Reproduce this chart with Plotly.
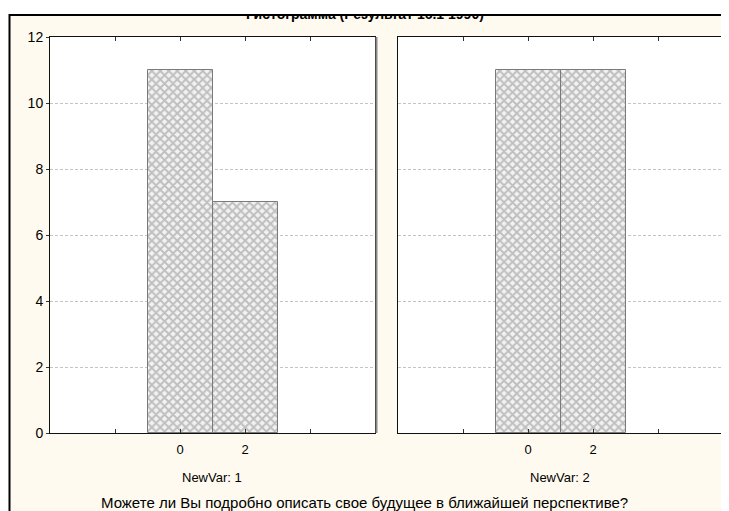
import plotly.graph_objects as go
from plotly.subplots import make_subplots

# Data
bin_centers = [0, 2]
counts_var1 = [11, 7]
counts_var2 = [11, 11]
panel_labels = ["NewVar: 1", "NewVar: 2"]
tick_vals = [-2, 0, 2, 4]
tick_text = ["", "0", "2", ""]
title_text = "Гистограмма (Результат 16.1 1990)"
xlabel_text = "Можете ли Вы подробно описать свое будущее в ближайшей перспективе?"

FONT = "Liberation Sans, Arial, sans-serif"
BG = "#FFFAEF"

# the page body has an 8px margin, so the figure is 8px smaller and everything is given in page pixels
OFF = 8
W, H = 729 - OFF, 511 - OFF
L, R, T, B = 50 - OFF, 729 - 723, 37 - OFF, 511 - 433
pw = W - L - R
ph = H - T - B


def px_x(page_x):
    return (page_x - OFF - L) / pw


def px_y(page_y):
    return (H - B - (page_y - OFF)) / ph


fig = make_subplots(rows=1, cols=2, horizontal_spacing=0.0)

pattern = dict(shape="x", fgcolor="#8a8a8a", bgcolor="#f2f2f2", size=6, solidity=0.55)

for i, counts in enumerate([counts_var1, counts_var2]):
    fig.add_trace(go.Bar(
        x=bin_centers, y=counts, width=2,
        marker=dict(color="#f2f2f2", pattern=pattern,
                    line=dict(color="#7a7a7a", width=1)),
        showlegend=False, hoverinfo="skip"), row=1, col=i + 1)

fig.update_layout(
    width=W, height=H,
    margin=dict(l=L, r=R, t=T, b=B),
    paper_bgcolor=BG, plot_bgcolor="white",
    font=dict(family=FONT, size=13, color="black"),
    bargap=0,
)

fig.layout.xaxis.domain = [0, px_x(375)]
fig.layout.xaxis2.domain = [px_x(398), 1]

for ax in ["xaxis", "xaxis2"]:
    fig.layout[ax].update(
        range=[-4, 6], tickvals=tick_vals, ticktext=tick_text,
        ticks="inside", ticklen=4, tickcolor="#333333", tickwidth=1,
        showline=True, linecolor="#111111", linewidth=1, mirror="ticks",
        showgrid=False, zeroline=False, tickfont=dict(size=13),
        ticklabelstandoff=4,
    )

fig.layout.yaxis.update(
    range=[0, 12], tickvals=[0, 2, 4, 6, 8, 10, 12],
    ticks="outside", ticklen=3, tickcolor="#333333",
    showline=True, linecolor="#111111", linewidth=1, mirror=True,
    showgrid=True, gridcolor="#c4c4c4", griddash="3px,2px", gridwidth=1,
    zeroline=False, tickfont=dict(size=14),
)
fig.layout.yaxis2.update(
    range=[0, 12], tickvals=[0, 2, 4, 6, 8, 10, 12],
    ticks="", showticklabels=False,
    showline=True, linecolor="#111111", linewidth=1, mirror=True,
    showgrid=True, gridcolor="#c4c4c4", griddash="3px,2px", gridwidth=1,
    zeroline=False,
)

shapes = [
    # white band at the top and left
    dict(type="rect", xref="paper", yref="paper", x0=px_x(0), x1=px_x(729), y0=px_y(14), y1=px_y(0),
         fillcolor="white", line=dict(width=0), layer="below"),
    dict(type="rect", xref="paper", yref="paper", x0=px_x(0), x1=px_x(9), y0=px_y(511), y1=px_y(0),
         fillcolor="white", line=dict(width=0), layer="below"),
    # black frame line on the left
    dict(type="line", xref="paper", yref="paper", x0=px_x(9.5), x1=px_x(9.5), y0=px_y(14), y1=px_y(511),
         line=dict(color="black", width=2)),
    # gray shadow on right edges of panels
    dict(type="line", xref="paper", yref="paper", x0=px_x(376.5), x1=px_x(376.5), y0=px_y(433), y1=px_y(37),
         line=dict(color="#8a8a8a", width=2)),
    dict(type="line", xref="paper", yref="paper", x0=px_x(724), x1=px_x(724), y0=px_y(434), y1=px_y(37),
         line=dict(color="#8a8a8a", width=2)),
]
fig.update_layout(shapes=shapes)

annotations = [
    dict(text=panel_labels[0], x=px_x(212), y=px_y(478), xref="paper", yref="paper",
         xanchor="center", yanchor="middle", showarrow=False, font=dict(size=13)),
    dict(text=panel_labels[1], x=px_x(560), y=px_y(478), xref="paper", yref="paper",
         xanchor="center", yanchor="middle", showarrow=False, font=dict(size=13)),
    dict(text=xlabel_text, x=px_x(364), y=px_y(502), xref="paper", yref="paper",
         xanchor="center", yanchor="middle", showarrow=False, font=dict(size=15)),
    # title, partly hidden behind the white band above the frame line
    dict(text="<b>" + title_text + "</b>", x=px_x(365), y=px_y(24), xref="paper", yref="paper",
         xanchor="center", yanchor="bottom", showarrow=False, font=dict(size=14)),
    # white cover above the frame line
    dict(text=" ", x=px_x(0), y=px_y(OFF), xref="paper", yref="paper",
         xanchor="left", yanchor="top", showarrow=False, font=dict(size=1),
         width=W, height=14 - OFF, bgcolor="white", borderpad=0, borderwidth=0),
    # black top frame line
    dict(text=" ", x=px_x(9), y=px_y(13.5), xref="paper", yref="paper",
         xanchor="left", yanchor="top", showarrow=False, font=dict(size=1),
         width=729 - 9, height=2, bgcolor="black", borderpad=0, borderwidth=0),
]
fig.update_layout(annotations=annotations)

fig.write_html("out.html")
